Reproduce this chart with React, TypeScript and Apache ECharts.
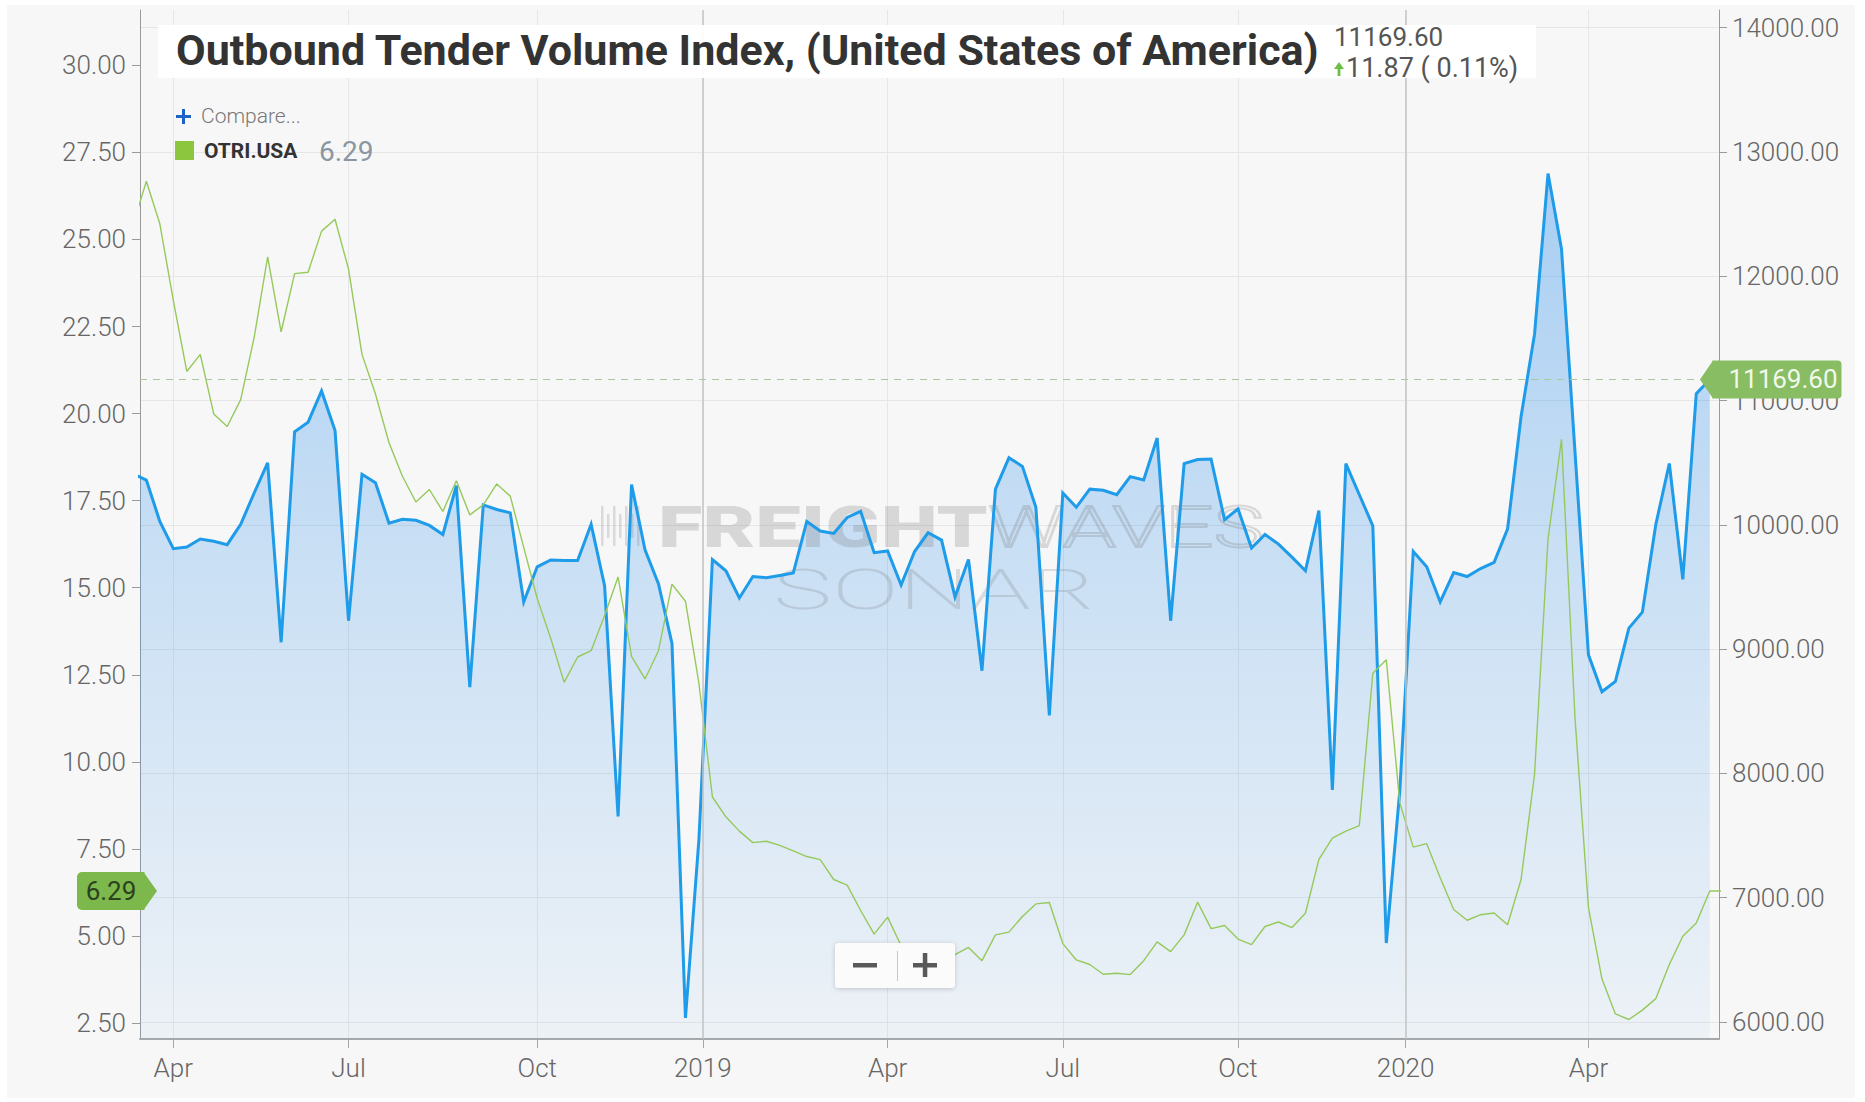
import React, { useEffect, useRef } from "react";
import * as echarts from "echarts";

// ---------- DATA ----------
// Weekly observations, first week (Sunday) = 2018-03-11
const FIRST_WEEK = [2018, 3, 11];

// Outbound Tender Volume Index (right axis)
const OTVI = [
  10411, 10360, 10027, 9808, 9822, 9886, 9867, 9840, 10004, 10256,
  10498, 9055, 10749, 10826, 11077, 10758, 9228, 10406, 10338, 10014,
  10045, 10036, 9995, 9922, 10315, 8694, 10160, 10123, 10096, 9379,
  9662, 9717, 9712, 9712, 10004, 9511, 7653, 10324, 9799, 9525,
  9046, 6032, 7470, 9721, 9630, 9411, 9584, 9575, 9593, 9612,
  10027, 9950, 9931, 10059, 10109, 9776, 9790, 9516, 9785, 9936,
  9877, 9420, 9721, 8826, 10287, 10539, 10470, 10141, 8466, 10256,
  10141, 10287, 10278, 10242, 10388, 10360, 10698, 9228, 10493, 10525,
  10529, 10041, 10128, 9813, 9922, 9845, 9740, 9630, 10114, 7867,
  10493, 10242, 9991, 6635, 7858, 9785, 9662, 9379, 9616, 9584,
  9648, 9698, 9968, 10872, 11534, 12826, 12219, 10589, 8954, 8657,
  8740, 9169, 9297, 10004, 10493, 9561, 11055, 11169.6,
];

// Outbound Tender Reject Index, OTRI.USA (left axis)
const OTRI = [
  25.4, 26.67, 25.45, 23.25, 21.21, 21.7, 19.99, 19.63, 20.4, 22.19,
  24.5, 22.35, 24.02, 24.06, 25.24, 25.58, 24.15, 21.7, 20.56, 19.17,
  18.2, 17.46, 17.82, 17.19, 18.07, 17.09, 17.38, 17.98, 17.63, 16.16,
  14.69, 13.55, 12.28, 13.01, 13.19, 14.2, 15.31, 13.03, 12.38, 13.19,
  15.1, 14.61, 12.25, 8.99, 8.42, 8.01, 7.68, 7.72, 7.6, 7.44,
  7.28, 7.19, 6.62, 6.46, 5.73, 5.05, 5.54, 4.72, 4.35, 4.2,
  4.4, 4.46, 4.67, 4.29, 5.03, 5.11, 5.56, 5.92, 5.96, 4.78,
  4.31, 4.18, 3.9, 3.93, 3.89, 4.29, 4.83, 4.55, 5.03, 5.97,
  5.21, 5.3, 4.91, 4.75, 5.27, 5.4, 5.24, 5.65, 7.2, 7.81,
  8.01, 8.17, 12.54, 12.93, 8.82, 7.55, 7.65, 6.67, 5.76, 5.45,
  5.61, 5.66, 5.32, 6.62, 9.64, 16.4, 19.26, 11.27, 5.81, 3.77,
  2.76, 2.6, 2.87, 3.2, 4.18, 4.99, 5.37, 6.29, 6.29,
];

// Tick positions: month ticks sit on the first weekly point of the month, year ticks on Jan 1
const X_TICKS = ["2018-04-01", "2018-07-01", "2018-10-07", "2019-01-01", "2019-04-07", "2019-07-07", "2019-10-06", "2020-01-01", "2020-04-05"];
const X_TICK_LABELS = ["Apr", "Jul", "Oct", "2019", "Apr", "Jul", "Oct", "2020", "Apr"];
const YEAR_LINES = ["2019-01-01", "2020-01-01"];
const X_RANGE = ["2018-03-14T16:48", "2020-06-11T19:12"];

const LEFT_TICKS = [2.5, 5, 7.5, 10, 12.5, 15, 17.5, 20, 22.5, 25, 27.5, 30];
const LEFT_RANGE = [2.04, 31.59];
const RIGHT_TICKS = [6000, 7000, 8000, 9000, 10000, 11000, 12000, 13000, 14000];
const RIGHT_RANGE = [5863, 14142];

const TITLE = "Outbound Tender Volume Index, (United States of America)";
const LAST_OTVI = 11169.6;
const LAST_OTRI = 6.29;
const CHANGE_TEXT = "11.87 ( 0.11%)";
const SERIES_CODE = "OTRI.USA";

// ---------- HELPERS ----------
function toTime(s: string): number {
  const [d, t] = s.split("T");
  const [y, m, dd] = d.split("-").map(Number);
  let hh = 0, mm = 0;
  if (t) [hh, mm] = t.split(":").map(Number);
  return new Date(y, m - 1, dd, hh, mm).getTime();
}

const FONT = "Roboto, 'Noto Sans', sans-serif";

export default function App() {
  const ref = useRef<HTMLDivElement>(null);

  useEffect(() => {
    const el = ref.current;
    if (!el) return;
    const chart = echarts.init(el, null, { renderer: "svg" });

    const weekTimes = OTRI.map((_, i) =>
      new Date(FIRST_WEEK[0], FIRST_WEEK[1] - 1, FIRST_WEEK[2] + 7 * i).getTime()
    );
    const blueData = OTVI.map((v, i) => [weekTimes[i], v]);
    const greenData = OTRI.map((v, i) => [weekTimes[i], v]);
    const xTickTimes = X_TICKS.map(toTime);

    const labelStyle = { color: "#666", fontSize: 26, fontFamily: FONT, fontWeight: 300 };

    const option: any = {
      animation: false,
      backgroundColor: "#f7f7f7",
      grid: { left: 140, right: 146, top: 10, bottom: 63, show: false },
      xAxis: {
        type: "value",
        min: toTime(X_RANGE[0]),
        max: toTime(X_RANGE[1]),
        axisLine: { show: true, lineStyle: { color: "#a8a8a8", width: 2 } },
        axisTick: { show: true, length: 9, customValues: xTickTimes, lineStyle: { color: "#a8a8a8", width: 1 } },
        axisLabel: {
          ...labelStyle,
          margin: 16,
          customValues: xTickTimes,
          formatter: (v: number) => {
            let best = 0;
            for (let i = 1; i < xTickTimes.length; i++) {
              if (Math.abs(xTickTimes[i] - v) < Math.abs(xTickTimes[best] - v)) best = i;
            }
            return X_TICK_LABELS[best];
          },
        },
        splitLine: { show: true, lineStyle: { color: "#e6e6e6", width: 1 } },
      },
      yAxis: [
        {
          type: "value",
          position: "left",
          min: LEFT_RANGE[0],
          max: LEFT_RANGE[1],
          axisLine: { show: true, lineStyle: { color: "#9a9a9a", width: 1 } },
          axisTick: { show: true, length: 8, customValues: LEFT_TICKS, lineStyle: { color: "#9a9a9a" } },
          axisLabel: { ...labelStyle, margin: 14, customValues: LEFT_TICKS, formatter: (v: number) => v.toFixed(2) },
          splitLine: { show: false },
        },
        {
          type: "value",
          position: "right",
          min: RIGHT_RANGE[0],
          max: RIGHT_RANGE[1],
          axisLine: { show: true, lineStyle: { color: "#9a9a9a", width: 1 } },
          axisTick: { show: true, length: 8, customValues: RIGHT_TICKS, lineStyle: { color: "#9a9a9a" } },
          axisLabel: { ...labelStyle, margin: 13, customValues: RIGHT_TICKS, formatter: (v: number) => v.toFixed(2) },
          splitLine: { show: true, lineStyle: { color: "#e6e6e6", width: 1 } },
        },
      ],
      series: [
        {
          name: "OTVI area",
          type: "line",
          yAxisIndex: 1,
          data: blueData,
          showSymbol: false,
          silent: true,
          z: 1,
          lineStyle: { width: 0, opacity: 0 },
          areaStyle: {
            origin: "start",
            color: new echarts.graphic.LinearGradient(0, 180, 0, 1039, [
              { offset: 0, color: "rgba(40,140,235,0.54)" },
              { offset: 0.45, color: "rgba(40,140,235,0.31)" },
              { offset: 1, color: "rgba(40,140,235,0.07)" },
            ], true),
          },
          markLine: {
            silent: true,
            symbol: ["none", "none"],
            label: { show: false },
            data: [
              ...YEAR_LINES.map((d) => ({ xAxis: toTime(d), lineStyle: { color: "#c4c4c4", width: 1.5, type: "solid" } })),
              { yAxis: LAST_OTVI, lineStyle: { color: "#a9c99b", width: 1.2, type: [7, 6] } },
            ],
          },
        },
        {
          name: "OTVI",
          type: "line",
          yAxisIndex: 1,
          data: blueData,
          showSymbol: false,
          z: 3,
          lineStyle: { color: "#1e9be9", width: 3, join: "miter" },
        },
        {
          name: SERIES_CODE,
          type: "line",
          yAxisIndex: 0,
          data: greenData,
          showSymbol: false,
          z: 4,
          lineStyle: { color: "#96c95c", width: 1.4 },
        },
      ],
    };

    chart.setOption(option);

    const yR = chart.convertToPixel({ yAxisIndex: 1 }, LAST_OTVI) as number;
    const yL = chart.convertToPixel({ yAxisIndex: 0 }, LAST_OTRI) as number;

    const wm = "rgba(105,105,105,0.22)";
    const wmLight = "rgba(105,105,105,0.2)";
    const bars = [0, 1, 2, 3, 4, 5, 6].map((k) => ({
      type: "rect",
      z: 2,
      silent: true,
      shape: { x: 601 + k * 6, y: 506 + (k % 2 === 0 ? 0 : 8), width: 2.5, height: k % 2 === 0 ? 40 : 24 },
      style: { fill: wmLight },
    }));

    const graphics: any[] = [
      // outer white frame
      { type: "rect", z: 200, silent: true, shape: { x: 0, y: 0, width: 1865, height: 5 }, style: { fill: "#ffffff" } },
      { type: "rect", z: 200, silent: true, shape: { x: 0, y: 0, width: 7, height: 1102 }, style: { fill: "#ffffff" } },
      { type: "rect", z: 200, silent: true, shape: { x: 1855, y: 0, width: 10, height: 1102 }, style: { fill: "#ffffff" } },
      { type: "rect", z: 200, silent: true, shape: { x: 0, y: 1098, width: 1865, height: 4 }, style: { fill: "#ffffff" } },

      // watermark
      ...bars,
      { type: "text", z: 2, silent: true, x: 658, y: 527, scaleX: 1.4, style: { text: "FREIGHT", fill: wm, font: `900 58px ${FONT}`, textVerticalAlign: "middle" } },
      { type: "text", z: 2, silent: true, x: 988, y: 527, scaleX: 1.47, style: { text: "WAVES", fill: "none", stroke: wm, lineWidth: 2, font: `300 58px ${FONT}`, textVerticalAlign: "middle" } },
      { type: "text", z: 2, silent: true, x: 773, y: 590, scaleX: 1.78, style: { text: "SONAR", fill: wmLight, font: `200 56px ${FONT}`, textVerticalAlign: "middle" } },

      // title box
      { type: "rect", z: 50, silent: true, shape: { x: 158, y: 25, width: 1378, height: 53 }, style: { fill: "rgba(255,255,255,0.93)" } },
      { type: "text", z: 51, x: 176, y: 50, style: { text: TITLE, fill: "#333333", font: `700 43px ${FONT}`, textVerticalAlign: "middle" } },
      { type: "text", z: 51, x: 1334, y: 37, style: { text: LAST_OTVI.toFixed(2), fill: "#555555", font: `400 26px ${FONT}`, textVerticalAlign: "middle" } },
      { type: "polygon", z: 51, shape: { points: [[1334, 69], [1339, 62], [1344, 69]] }, style: { fill: "#6cbf45" } },
      { type: "rect", z: 51, shape: { x: 1337.6, y: 68, width: 2.8, height: 8 }, style: { fill: "#6cbf45" } },
      { type: "text", z: 51, x: 1346, y: 68, style: { text: CHANGE_TEXT, fill: "#555555", font: `400 27px ${FONT}`, textVerticalAlign: "middle" } },

      // legend
      { type: "rect", z: 51, shape: { x: 176, y: 115, width: 15, height: 3 }, style: { fill: "#1d62c9" } },
      { type: "rect", z: 51, shape: { x: 182, y: 109, width: 3, height: 15 }, style: { fill: "#1d62c9" } },
      { type: "text", z: 51, x: 201, y: 116, style: { text: "Compare...", fill: "#777777", font: `300 21px ${FONT}`, textVerticalAlign: "middle" } },
      { type: "rect", z: 51, shape: { x: 175, y: 141, width: 19, height: 19 }, style: { fill: "#8cc63f" } },
      { type: "text", z: 51, x: 204, y: 151, style: { text: SERIES_CODE, fill: "#333333", font: `700 21px ${FONT}`, textVerticalAlign: "middle" } },
      { type: "text", z: 51, x: 319, y: 151, style: { text: LAST_OTRI.toFixed(2), fill: "#8a96a2", font: `400 28px ${FONT}`, textVerticalAlign: "middle" } },

      // right tag (last OTVI)
      { type: "polygon", z: 60, shape: { points: [[1700, yR], [1713, yR - 19], [1713, yR + 19]] }, style: { fill: "#88bd63" } },
      { type: "rect", z: 60, shape: { x: 1712.5, y: yR - 19, width: 129, height: 38, r: [0, 4, 4, 0] }, style: { fill: "#88bd63" } },
      { type: "text", z: 61, x: 1783, y: yR, style: { text: LAST_OTVI.toFixed(2), fill: "#f1f8ec", font: `400 26px ${FONT}`, textAlign: "center", textVerticalAlign: "middle" } },

      // left tag (last OTRI)
      { type: "rect", z: 60, shape: { x: 77, y: yL - 19, width: 67.5, height: 38, r: [5, 0, 0, 5] }, style: { fill: "#7cb84c" } },
      { type: "polygon", z: 60, shape: { points: [[143.5, yL - 19], [157, yL], [143.5, yL + 19]] }, style: { fill: "#7cb84c" } },
      { type: "text", z: 61, x: 111, y: yL, style: { text: LAST_OTRI.toFixed(2), fill: "#2c421f", font: `400 26px ${FONT}`, textAlign: "center", textVerticalAlign: "middle" } },

      // zoom buttons
      { type: "rect", z: 70, shape: { x: 835, y: 943, width: 120, height: 45, r: 4 }, style: { fill: "#fbfbfb", shadowBlur: 5, shadowColor: "rgba(0,0,0,0.18)", shadowOffsetY: 1 } },
      { type: "rect", z: 71, shape: { x: 853, y: 963, width: 24, height: 4.5 }, style: { fill: "#595959" } },
      { type: "line", z: 71, shape: { x1: 897.5, y1: 951, x2: 897.5, y2: 981 }, style: { stroke: "#c8c8c8", lineWidth: 1 } },
      { type: "rect", z: 71, shape: { x: 913, y: 963, width: 24, height: 4.5 }, style: { fill: "#595959" } },
      { type: "rect", z: 71, shape: { x: 922.8, y: 953, width: 4.5, height: 24 }, style: { fill: "#595959" } },
    ];

    chart.setOption({ graphic: graphics });

    return () => chart.dispose();
  }, []);

  return (
    <div
      ref={ref}
      style={{ position: "absolute", left: 0, top: 0, width: 1865, height: 1102, background: "#ffffff" }}
    />
  );
}
